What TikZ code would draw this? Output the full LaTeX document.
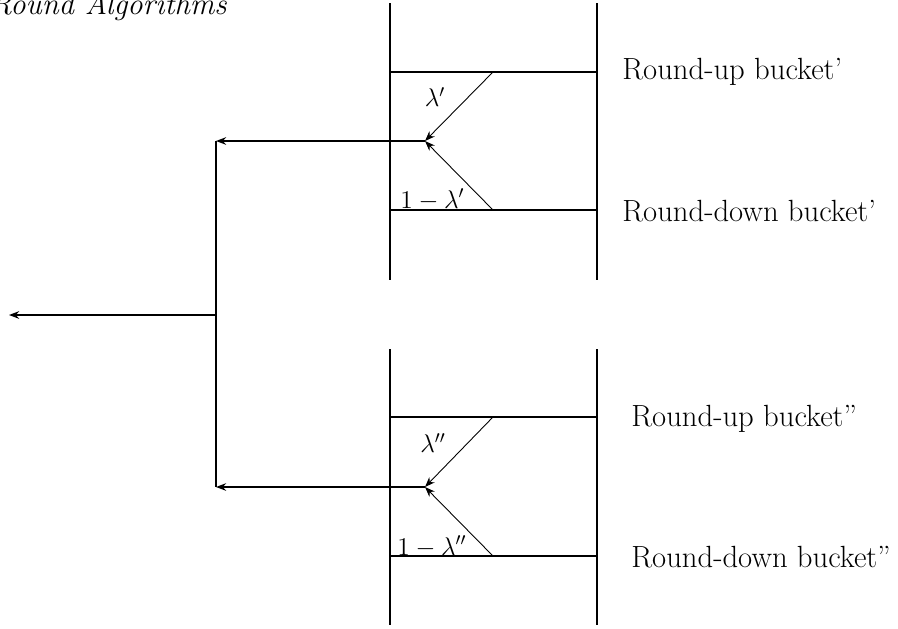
\documentclass[tikz,border=0pt]{standalone}
\usepackage{amsmath, amssymb}
\usepackage{tikz}
\usetikzlibrary{positioning, arrows.meta}

\begin{document}
\begin{tikzpicture}[
  x=0.0198cm, y=-0.0198cm,
  font=\normalsize,
  rail/.style={line width=1pt},
  arr/.style={-{Stealth[length=2mm, width=1.5mm]}, line width=1pt},
  share/.style={-{Stealth[length=2mm, width=1.5mm]}, line width=0.5pt},
  bucket/.style={anchor=base west, inner sep=0pt, font=\LARGE},
  weight/.style={font=\Large, inner sep=0pt}
]
\clip (0,0) rectangle (898,628);

\node[anchor=base east, inner sep=0pt, font=\LARGE\itshape] (title) at (227,15) {Round Algorithms};

% first pair of buckets
\draw[rail] (390,3) -- (390,280);
\draw[rail] (597,3) -- (597,280);
\draw[rail] (390,72) -- (597,72);
\draw[rail] (390,210) -- (597,210);
\coordinate (upA) at (493,72);
\coordinate (downA) at (493,210);
\coordinate (tipA) at (425,141);
\node[bucket] (labUpA) at (622,79) {Round-up bucket'};
\node[bucket] (labDownA) at (622,221) {Round-down bucket'};
\node[weight] (lamA) at (435,97) {$\lambda'$};
\node[weight, anchor=base west] (restA) at (400,208) {$1-\lambda'$};
\draw[share] (upA) -- (tipA);
\draw[share] (downA) -- (tipA);

% second pair of buckets
\draw[rail] (390,349) -- (390,625);
\draw[rail] (597,349) -- (597,625);
\draw[rail] (390,417) -- (597,417);
\draw[rail] (390,556) -- (597,556);
\coordinate (upB) at (493,417);
\coordinate (downB) at (493,556);
\coordinate (tipB) at (425,487);
\node[bucket] (labUpB) at (631,426) {Round-up bucket''};
\node[bucket] (labDownB) at (631,567) {Round-down bucket''};
\node[weight] (lamB) at (433,443) {$\lambda''$};
\node[weight, anchor=base west] (restB) at (397,555) {$1-\lambda''$};
\draw[share] (upB) -- (tipB);
\draw[share] (downB) -- (tipB);

% merging both outputs
\coordinate (joinA) at (216,141);
\coordinate (joinB) at (216,487);
\coordinate (joinM) at (216,315);
\coordinate (out) at (9,315);
\draw[arr] (tipA) -- (joinA);
\draw[arr] (tipB) -- (joinB);
\draw[rail] (joinA) -- (joinB);
\draw[arr] (joinM) -- (out);
\end{tikzpicture}
\end{document}
